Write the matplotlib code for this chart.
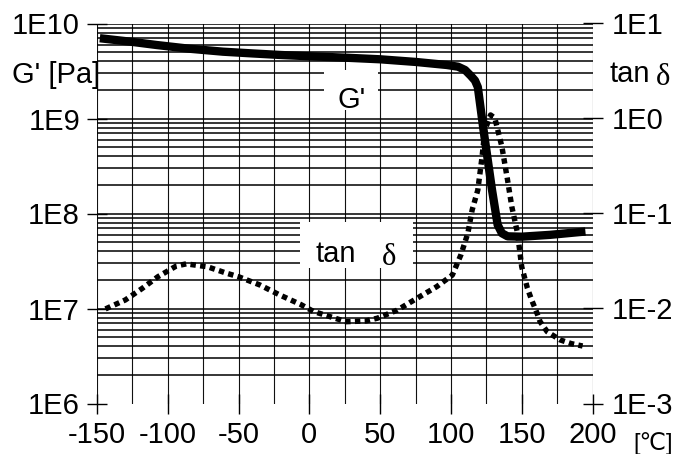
import numpy as np
import matplotlib
matplotlib.use("Agg")
import matplotlib.pyplot as plt
from matplotlib import font_manager
from matplotlib.patches import Rectangle
from matplotlib.ticker import NullLocator

plt.rcParams['font.family'] = ['Liberation Sans', 'DejaVu Sans']

# ---- data ----
temp_g = [-148, -125, -108, -85, -61, -40, -20, 0, 25, 50, 75, 97, 105, 110,
          114, 117, 119, 123, 129, 133, 136, 140, 150, 170, 195]
g_prime = [7.0e9, 6.4e9, 5.94e9, 5.43e9, 5.05e9, 4.84e9, 4.66e9, 4.52e9, 4.37e9,
           4.2e9, 3.94e9, 3.66e9, 3.51e9, 3.24e9, 2.82e9, 2.51e9, 2.14e9, 7.6e8,
           1.78e8, 7.6e7, 6.2e7, 5.75e7, 5.7e7, 5.96e7, 6.46e7]

temp_tan = [-144, -130, -118, -107, -94, -87, -72, -58, -50, -35, -21, -6, 3,
            26, 40, 48, 62, 76, 90, 101, 107, 112, 115, 119, 122, 124, 128,
            131, 136, 140, 143, 147, 150, 154, 157, 160, 163, 168, 177, 185, 193]
tan_delta = [0.0099, 0.0123, 0.0163, 0.0216, 0.028, 0.0295, 0.0275, 0.0234,
             0.0216, 0.0177, 0.0139, 0.011, 0.0093, 0.00726, 0.0074, 0.0079,
             0.0096, 0.0128, 0.017, 0.0225, 0.0366, 0.0624, 0.109, 0.177,
             0.396, 0.757, 1.09, 1.01, 0.505, 0.225, 0.118, 0.0624, 0.0275,
             0.0164, 0.0123, 0.0096, 0.00726, 0.0057, 0.00468, 0.00427, 0.00403]

x_ticks = [-150, -100, -50, 0, 50, 100, 150, 200]
x_grid = list(range(-150, 201, 25))
left_ticks = [1e6, 1e7, 1e8, 1e9, 1e10]
left_labels = ['1E6', '1E7', '1E8', '1E9', '1E10']
right_ticks = [1e-3, 1e-2, 1e-1, 1e0, 1e1]
right_labels = ['1E-3', '1E-2', '1E-1', '1E0', '1E1']

names = {f.name for f in font_manager.fontManager.ttflist}
if 'Liberation Sans Narrow' in names:
    xfont, xsize = ['Liberation Sans Narrow', 'DejaVu Sans'], 25
else:
    xfont, xsize = ['Liberation Sans', 'DejaVu Sans'], 21

W, H = 678, 454
fig = plt.figure(figsize=(W / 100, H / 100), dpi=100)
L, R, T, B = 97, 592.5, 23.5, 403.5
ax = fig.add_axes([L / W, 1 - B / H, (R - L) / W, (B - T) / H])
ax.set_xlim(-150, 200)
ax.set_yscale('log')
ax.set_ylim(1e6, 1e10)
ax2 = ax.twinx()
ax2.set_yscale('log')
ax2.set_ylim(1e-3, 1e1)

for a in (ax, ax2):
    for s in a.spines.values():
        s.set_visible(False)
    a.yaxis.set_minor_locator(NullLocator())
    a.xaxis.set_minor_locator(NullLocator())

# grid
for t in x_grid:
    ax.axvline(t, color='#111111', lw=0.8, zorder=1)
for d in range(6, 10):
    for k in range(1, 10):
        v = k * 10.0 ** d
        if v == 1e6:
            continue
        ax.axhline(v, color='black', lw=1.1, zorder=1)
ax.axhline(1e10, color='black', lw=1.1, zorder=1)

ax.set_xticks(x_ticks)
ax.set_xticklabels([str(v) for v in x_ticks], fontsize=xsize, family=xfont)
ax.set_yticks(left_ticks)
ax.set_yticklabels(left_labels, fontsize=21)
ax2.set_yticks(right_ticks)
ax2.set_yticklabels(right_labels, fontsize=21)
ax.tick_params(axis='x', direction='inout', length=15, width=1, pad=5)
ax.tick_params(axis='y', direction='inout', length=15, width=1, pad=4.7)
ax2.tick_params(axis='y', direction='inout', length=15, width=1, pad=6.5)

# label boxes
def px_rect(x0, y0, x1, y1):
    r = Rectangle((x0 / W, 1 - y1 / H), (x1 - x0) / W, (y1 - y0) / H,
                  transform=fig.transFigure, facecolor='white', edgecolor='none',
                  zorder=2)
    ax.add_artist(r)
    r.set_clip_on(False)

px_rect(324, 70, 378, 110)
px_rect(300, 222, 413, 268)

# curves
ax2.plot(temp_tan, tan_delta, color='black', lw=3.9, linestyle=(0, (1, 0.8)),
         dash_capstyle='butt', zorder=4)
ax2.plot(temp_g, g_prime, color='black', lw=6, solid_capstyle='butt',
         solid_joinstyle='round', zorder=5, transform=ax.transData)

# texts
fig.text(352 / W, 1 - 108 / H, "G'", fontsize=21, ha='center', va='baseline', zorder=6)
fig.text(336 / W, 1 - 262 / H, "tan", fontsize=21, ha='center', va='baseline', zorder=6)
fig.text(389 / W, 1 - 265 / H, "δ", fontsize=22, ha='center', va='baseline',
         family=['Liberation Serif', 'DejaVu Serif'], zorder=6)
fig.text(100 / W, 1 - 83 / H, "G' [Pa]", fontsize=21, ha='right', va='baseline')
fig.text(610 / W, 1 - 82 / H, "tan", fontsize=21, ha='left', va='baseline')
fig.text(663 / W, 1 - 85 / H, "δ", fontsize=22, ha='center', va='baseline',
         family=['Liberation Serif', 'DejaVu Serif'])
fig.text(673 / W, 1 - 450 / H, "[℃]", fontsize=17, ha='right', va='baseline',
         family=['Liberation Sans', 'DejaVu Sans'])

fig.savefig('out.png', dpi=100)
